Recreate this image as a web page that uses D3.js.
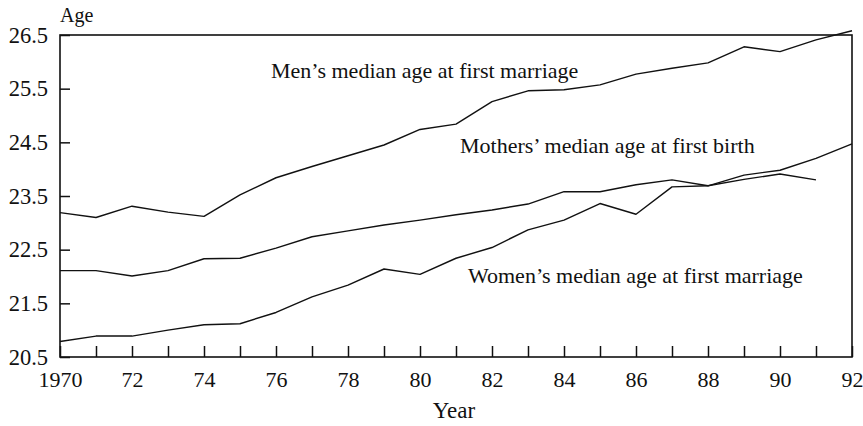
<!DOCTYPE html>
<html>
<head>
<meta charset="utf-8">
<script src="https://cdn.jsdelivr.net/npm/d3@7"></script>
<style>
  html, body { margin: 0; padding: 0; background: #fff; }
  svg { display: block; }
  text { font-family: "Liberation Serif", "DejaVu Serif", serif; fill: #111; }
</style>
</head>
<body>
<svg id="chart" width="863" height="426"></svg>
<script>
const years = d3.range(1970, 1993);
const menAge = [23.19, 23.1, 23.31, 23.2, 23.12, 23.52, 23.84, 24.05, 24.25, 24.45, 24.74, 24.84, 25.26, 25.46, 25.48, 25.57, 25.77, 25.88, 25.98, 26.28, 26.19, 26.41, 26.58];
const womenAge = [20.79, 20.89, 20.89, 21.0, 21.1, 21.12, 21.33, 21.62, 21.84, 22.14, 22.04, 22.34, 22.54, 22.87, 23.05, 23.36, 23.16, 23.67, 23.69, 23.89, 23.98, 24.2, 24.47];
const mothersYears = d3.range(1970, 1992);
const mothersAge = [22.11, 22.11, 22.01, 22.11, 22.33, 22.34, 22.53, 22.74, 22.85, 22.96, 23.05, 23.15, 23.24, 23.35, 23.58, 23.58, 23.71, 23.8, 23.69, 23.81, 23.91, 23.8];
const yTicks = [20.5, 21.5, 22.5, 23.5, 24.5, 25.5, 26.5];
const xLabelYears = [1970, 1972, 1974, 1976, 1978, 1980, 1982, 1984, 1986, 1988, 1990, 1992];
const xLabelText = ["1970", "72", "74", "76", "78", "80", "82", "84", "86", "88", "90", "92"];
const seriesLabels = ["Men\u2019s median age at first marriage", "Mothers\u2019 median age at first birth", "Women\u2019s median age at first marriage"];

const svg = d3.select("#chart");
const x = d3.scaleLinear().domain([1970, 1992]).range([60, 852]);
const y = d3.scaleLinear().domain([20.5, 26.5]).range([357, 35]);

// frame
svg.append("rect")
  .attr("x", x(1970)).attr("y", y(26.5))
  .attr("width", x(1992) - x(1970)).attr("height", y(20.5) - y(26.5))
  .attr("fill", "none").attr("stroke", "#111").attr("stroke-width", 1.6);

// y axis
const yAxis = d3.axisLeft(y).tickValues(yTicks).tickSize(-10).tickPadding(12)
  .tickFormat(d => d.toFixed(1));
const gy = svg.append("g").attr("transform", `translate(${x(1970)},0)`).call(yAxis);
gy.select(".domain").remove();
gy.selectAll("line").attr("stroke", "#111").attr("stroke-width", 1.5);
gy.selectAll("text").style("font-size", "22.5px").attr("fill", "#111");

// x axis
const labelMap = new Map(xLabelYears.map((yr, i) => [yr, xLabelText[i]]));
const xAxis = d3.axisBottom(x).tickValues(years).tickSize(-11).tickPadding(14)
  .tickFormat(d => labelMap.get(d) || "");
const gx = svg.append("g").attr("transform", `translate(0,${y(20.5)})`).call(xAxis);
gx.select(".domain").remove();
gx.selectAll("line").attr("stroke", "#111").attr("stroke-width", 1.5);
gx.selectAll("text").style("font-size", "22px").attr("fill", "#111");

// lines
const line = d3.line().x(d => x(d[0])).y(d => y(d[1]));
const series = [
  years.map((yr, i) => [yr, menAge[i]]),
  mothersYears.map((yr, i) => [yr, mothersAge[i]]),
  years.map((yr, i) => [yr, womenAge[i]])
];
svg.append("g").selectAll("path").data(series).join("path")
  .attr("d", line).attr("fill", "none").attr("stroke", "#111").attr("stroke-width", 1.4)
  .attr("stroke-linejoin", "round");

// series labels
const labelPos = [[271, 78], [460, 153], [468, 283]];
svg.append("g").selectAll("text").data(seriesLabels).join("text")
  .attr("x", (d, i) => labelPos[i][0]).attr("y", (d, i) => labelPos[i][1])
  .style("font-size", "22px").text(d => d);

// axis titles
svg.append("text").attr("x", 60).attr("y", 22).style("font-size", "20px").text("Age");
svg.append("text").attr("x", 454).attr("y", 418).attr("text-anchor", "middle").style("font-size", "23px").text("Year");
</script>
</body>
</html>
